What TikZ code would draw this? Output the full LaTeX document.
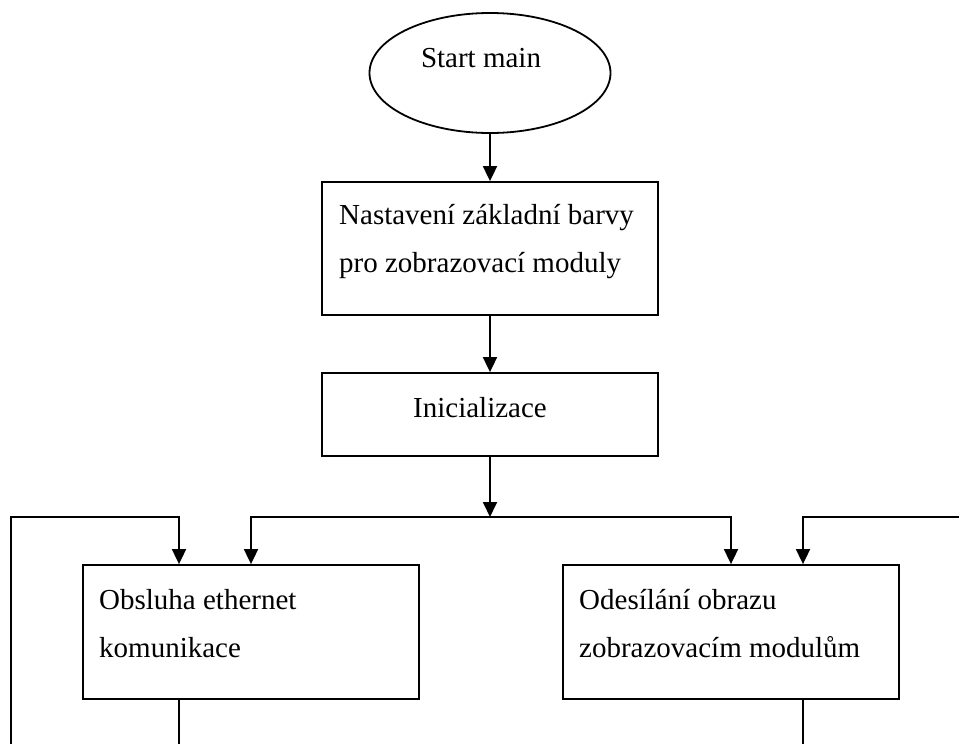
\documentclass[tikz,border=0pt]{standalone}
\usepackage{fontspec}
\setmainfont{Liberation Serif}
\usetikzlibrary{arrows.meta,shapes.geometric}
\begin{document}
\begin{tikzpicture}[x=1pt,y=-1pt,
  wire/.style={line width=1.8pt},
  link/.style={wire, -{Triangle[length=15pt,width=14pt]}},
  stepbox/.style={draw, line width=1.8pt, rectangle, inner sep=0pt, minimum width=336pt},
  startbox/.style={draw, line width=1.8pt, ellipse, inner sep=0pt, minimum width=241pt, minimum height=120pt},
  txt/.style={font=\fontsize{29}{48}\selectfont, inner sep=0pt, align=left}
]
\useasboundingbox (0,0) rectangle (959,744);

% blocks (multi-line texts are anchored at the baseline of their last line)
\node[startbox] (start) at (490,73) {};
\node[txt, anchor=base] (start-text) at (481,67) {Start main};

\node[stepbox, minimum height=133pt] (colour) at (490,248.5) {};
\node[txt, anchor=base west] (colour-text) at (339,272) {Nastavení základní barvy\\pro zobrazovací moduly};

\node[stepbox, minimum height=83pt] (init) at (490,414.5) {};
\node[txt, anchor=base] (init-text) at (480,417) {Inicializace};

\node[stepbox, minimum height=134pt] (eth) at (251,632) {};
\node[txt, anchor=base west] (eth-text) at (99,657) {Obsluha ethernet\\komunikace};

\node[stepbox, minimum height=134pt] (send) at (731,632) {};
\node[txt, anchor=base west] (send-text) at (579,657) {Odesílání obrazu\\zobrazovacím modulům};

% junction and loose ends
\coordinate (split) at (490,517);
\coordinate (eth-out) at (179,750);
\coordinate (send-out) at (803,750);
\coordinate (loop-l) at (11,750);
\coordinate (loop-r) at (965,517);

% connectors
\draw[link] (start) -- (colour);
\draw[link] (colour) -- (init);
\draw[link] (init) -- (split);
\draw[link] (split) -| (eth.north);
\draw[link] (split) -| (send.north);
\draw[link] (loop-l) -- (11,517) -| ([xshift=-72pt]eth.north);
\draw[link] (loop-r) -| ([xshift=72pt]send.north);
\draw[wire] ([xshift=-72pt]eth.south) -- (eth-out);
\draw[wire] ([xshift=72pt]send.south) -- (send-out);
\end{tikzpicture}
\end{document}
